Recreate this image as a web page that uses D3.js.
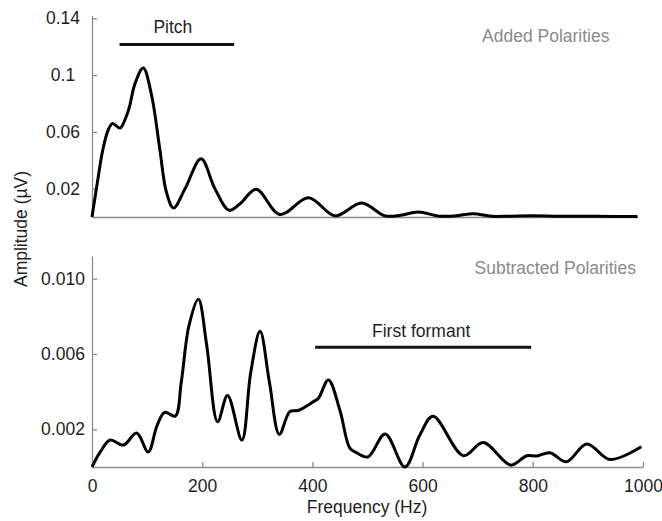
<!DOCTYPE html>
<html>
<head>
<meta charset="utf-8">
<script src="https://cdn.jsdelivr.net/npm/d3@7"></script>
<style>
    body { margin: 0; background: #fff; }
    svg { font-family: "Liberation Sans", Arial, sans-serif; }
</style>
</head>
<body>
<svg id="chart" width="662" height="521"></svg>
<script>
// Added polarities spectrum (frequency Hz, amplitude uV)
const addedFreq = [0, 10, 20, 30, 37, 45, 51, 66, 78, 93, 108, 123, 135, 148, 169, 198, 223, 249, 269, 298, 341, 393, 441, 489, 532, 560, 592, 630, 660, 692, 725, 760, 800, 850, 900, 950, 990];
const addedAmp = [0, 0.025, 0.048, 0.062, 0.0658, 0.064, 0.0627, 0.075, 0.094, 0.105, 0.086, 0.048, 0.0176, 0.0063, 0.020, 0.041, 0.020, 0.0047, 0.0094, 0.0195, 0.0018, 0.0136, 0.0008, 0.0098, 0.0008, 0.0012, 0.0035, 0.0006, 0.0008, 0.0023, 0.0005, 0.0006, 0.0008, 0.0005, 0.0006, 0.0004, 0.0003];

// Subtracted polarities spectrum
const subFreq = [0, 15, 33, 57, 81, 102, 118, 132, 151, 162, 176, 193, 208, 228, 246, 272, 288, 305, 322, 340, 359, 374, 402, 411, 429, 450, 468, 480, 501, 532, 568, 595, 619, 674, 710, 760, 789, 807, 831, 861, 898, 940, 997];
const subAmp = [0, 0.0008, 0.00143, 0.00116, 0.0018, 0.0008, 0.0022, 0.0029, 0.0027, 0.0045, 0.0075, 0.0089, 0.0065, 0.0024, 0.0038, 0.00143, 0.0050, 0.0072, 0.0045, 0.00173, 0.00294, 0.0030, 0.00347, 0.00365, 0.00462, 0.0030, 0.0010, 0.00076, 0.00054, 0.00175, 0.0, 0.0017, 0.0027, 0.0006, 0.0013, 0.0001, 0.0006, 0.00058, 0.00076, 0.00028, 0.00122, 0.0004, 0.00107];

// tick values and labels
const topTicks = [0.02, 0.06, 0.1, 0.14];
const topTickLabels = ['0.02', '0.06', '0.1', '0.14'];
const bottomTicks = [0.002, 0.006, 0.010];
const bottomTickLabels = ['0.002', '0.006', '0.010'];
const freqTicks = [0, 200, 400, 600, 800, 1000];

// annotation bars: [from Hz, to Hz, amplitude]
const pitchBar = [50, 258, 0.1215];
const formantBar = [405, 797, 0.00636];

document.addEventListener('DOMContentLoaded', function () {
    const svg = d3.select('#chart');
    const axisColor = '#8c8c8c';
    const textColor = '#1e1e1e';
    const fontSize = '17.5px';

    const x = d3.scaleLinear().domain([0, 1000]).range([92, 643]);
    const yTop = d3.scaleLinear().domain([0, 0.142]).range([217, 15.5]);
    const yBottom = d3.scaleLinear().domain([0, 0.0112]).range([467, 256]);

    function drawYAxis(scale, ticks, labels) {
        const g = svg.append('g')
            .attr('transform', `translate(${x(0)},0)`)
            .call(d3.axisLeft(scale)
                .tickValues(ticks)
                .tickFormat((d, i) => labels[i])
                .tickSizeInner(-5)
                .tickSizeOuter(0));
        g.select('.domain').attr('stroke', axisColor).attr('stroke-width', 1.3);
        g.selectAll('.tick line').attr('stroke', axisColor).attr('stroke-width', 1.3);
        g.selectAll('.tick text')
            .attr('x', -29)
            .attr('text-anchor', 'middle')
            .attr('fill', textColor)
            .style('font-size', fontSize)
            .style('font-family', '"Liberation Sans", Arial, sans-serif');
    }

    drawYAxis(yTop, topTicks, topTickLabels);
    drawYAxis(yBottom, bottomTicks, bottomTickLabels);

    // top panel baseline, no ticks
    const topBase = svg.append('g')
        .attr('transform', `translate(0,${yTop(0)})`)
        .call(d3.axisBottom(d3.scaleLinear().domain([0, 990]).range([x(0), x(990)]))
            .tickValues([]).tickSizeOuter(0));
    topBase.select('.domain').attr('stroke', axisColor).attr('stroke-width', 1.3);

    // bottom panel x axis, ticks pointing up
    const xAxis = svg.append('g')
        .attr('transform', `translate(0,${yBottom(0)})`)
        .call(d3.axisBottom(x)
            .tickValues(freqTicks)
            .tickFormat(d3.format('d'))
            .tickSizeInner(-5)
            .tickSizeOuter(0));
    xAxis.select('.domain').attr('stroke', axisColor).attr('stroke-width', 1.3);
    xAxis.selectAll('.tick line').attr('stroke', axisColor).attr('stroke-width', 1.3);
    xAxis.selectAll('.tick text')
        .attr('y', 25)
        .attr('dy', 0)
        .attr('fill', textColor)
        .style('font-size', fontSize)
        .style('font-family', '"Liberation Sans", Arial, sans-serif');

    // spectra
    const topLine = d3.line()
        .x((d, i) => x(addedFreq[i]))
        .y(d => yTop(Math.max(d, 0)))
        .curve(d3.curveCatmullRom.alpha(0.5));

    const bottomLine = d3.line()
        .x((d, i) => x(subFreq[i]))
        .y(d => yBottom(d))
        .curve(d3.curveCatmullRom.alpha(0.5));

    svg.append('path')
        .attr('d', topLine(addedAmp))
        .attr('fill', 'none')
        .attr('stroke', '#000')
        .attr('stroke-width', 3)
        .attr('stroke-linejoin', 'round');

    svg.append('path')
        .attr('d', bottomLine(subAmp))
        .attr('fill', 'none')
        .attr('stroke', '#000')
        .attr('stroke-width', 3)
        .attr('stroke-linejoin', 'round');

    // annotation bars
    svg.append('line')
        .attr('x1', x(pitchBar[0])).attr('x2', x(pitchBar[1]))
        .attr('y1', yTop(pitchBar[2])).attr('y2', yTop(pitchBar[2]))
        .attr('stroke', '#111').attr('stroke-width', 3);

    svg.append('line')
        .attr('x1', x(formantBar[0])).attr('x2', x(formantBar[1]))
        .attr('y1', yBottom(formantBar[2])).attr('y2', yBottom(formantBar[2]))
        .attr('stroke', '#111').attr('stroke-width', 3);

    svg.append('text')
        .attr('x', x((pitchBar[0] + pitchBar[1]) / 2) - 4)
        .attr('y', 33)
        .attr('text-anchor', 'middle')
        .attr('fill', textColor)
        .style('font-size', fontSize)
        .text('Pitch');

    svg.append('text')
        .attr('x', x((formantBar[0] + formantBar[1]) / 2) - 2)
        .attr('y', 336.5)
        .attr('text-anchor', 'middle')
        .attr('fill', textColor)
        .style('font-size', fontSize)
        .text('First formant');

    // panel titles
    svg.append('text')
        .attr('x', 609.5)
        .attr('y', 41.5)
        .attr('text-anchor', 'end')
        .attr('fill', '#8a8a8a')
        .style('font-size', fontSize)
        .text('Added Polarities');

    svg.append('text')
        .attr('x', 636)
        .attr('y', 273.5)
        .attr('text-anchor', 'end')
        .attr('fill', '#8a8a8a')
        .style('font-size', fontSize)
        .text('Subtracted Polarities');

    // axis titles
    svg.append('text')
        .attr('transform', 'translate(26.5,229) rotate(-90)')
        .attr('text-anchor', 'middle')
        .attr('fill', textColor)
        .style('font-size', fontSize)
        .text('Amplitude (µV)');

    svg.append('text')
        .attr('x', 367)
        .attr('y', 513)
        .attr('text-anchor', 'middle')
        .attr('fill', textColor)
        .style('font-size', fontSize)
        .text('Frequency (Hz)');
});
</script>
</body>
</html>
